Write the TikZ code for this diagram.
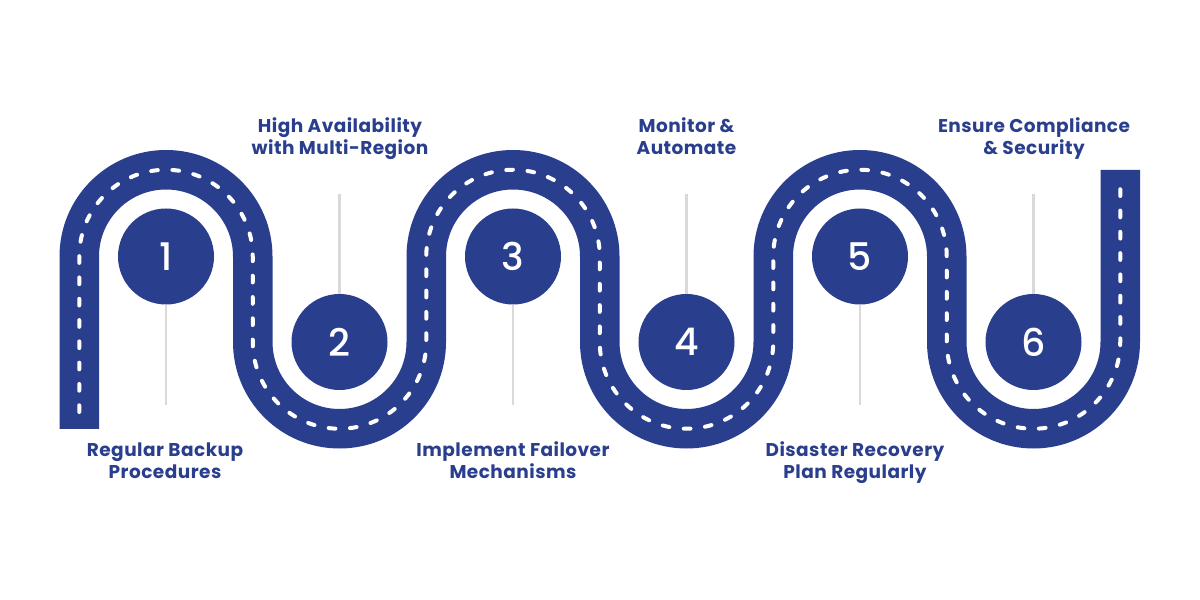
\documentclass[tikz,border=0pt]{standalone}
\usepackage{fontspec}
\setmainfont{Poppins}
\newfontfamily\lblfont{Poppins}[LetterSpace=2.5]
\newfontfamily\numfont{Poppins Medium}
\definecolor{roadblue}{RGB}{42,62,142}
\definecolor{stemgray}{RGB}{217,217,217}
\tikzset{
  road/.style={draw=roadblue, line width=39.5pt},
  laneline/.style={draw=white, line width=4pt, line cap=round, dash pattern=on 6.7pt off 14.6pt},
  stepcircle/.style={circle, fill=roadblue, minimum size=96pt, inner sep=0pt, text=white, font=\numfont\fontsize{38}{38}\selectfont},
  stem/.style={draw=stemgray, line width=2.5pt},
  lbl/.style={anchor=base, inner sep=0pt, text=roadblue, font=\lblfont\bfseries\fontsize{18.5}{22}\selectfont}
}
\begin{document}
\begin{tikzpicture}[x=1pt,y=1pt]
\useasboundingbox (0,0) rectangle (1200,600);
\fill[white] (0,0) rectangle (1200,600);
% road
\draw[road] (79.25,171) -- (79.25,343.5)
  arc[start angle=180,end angle=0,radius=86.75pt] -- (252.75,258)
  arc[start angle=180,end angle=360,radius=86.75pt] -- (426.25,343.5)
  arc[start angle=180,end angle=0,radius=86.75pt] -- (599.75,258)
  arc[start angle=180,end angle=360,radius=86.75pt] -- (773.25,343.5)
  arc[start angle=180,end angle=0,radius=86.75pt] -- (946.75,258)
  arc[start angle=180,end angle=360,radius=86.75pt] -- (1120.25,430);
\draw[laneline] (79.25,188) -- (79.25,343.5)
  arc[start angle=180,end angle=0,radius=86.75pt] -- (252.75,258)
  arc[start angle=180,end angle=360,radius=86.75pt] -- (426.25,343.5)
  arc[start angle=180,end angle=0,radius=86.75pt] -- (599.75,258)
  arc[start angle=180,end angle=360,radius=86.75pt] -- (773.25,343.5)
  arc[start angle=180,end angle=0,radius=86.75pt] -- (946.75,258)
  arc[start angle=180,end angle=360,radius=86.75pt] -- (1120.25,412);
% circles
\node[stepcircle] (c1) at (166,343.5) {1};
\node[stepcircle] (c2) at (339.5,258) {2};
\node[stepcircle] (c3) at (513,343.5) {3};
\node[stepcircle] (c4) at (686.5,258) {4};
\node[stepcircle] (c5) at (860,343.5) {5};
\node[stepcircle] (c6) at (1033.5,258) {6};
% stems
\coordinate (s1) at (166,195);
\coordinate (s2) at (339.5,406);
\coordinate (s3) at (513,195);
\coordinate (s4) at (686.5,406);
\coordinate (s5) at (860,195);
\coordinate (s6) at (1033.5,406);
\draw[stem] (c1.south) -- (s1);
\draw[stem] (c2.north) -- (s2);
\draw[stem] (c3.south) -- (s3);
\draw[stem] (c4.north) -- (s4);
\draw[stem] (c5.south) -- (s5);
\draw[stem] (c6.north) -- (s6);
% labels
\node[lbl] (t1) at (165,143) {\begin{tabular}[t]{@{}c@{}}Regular Backup\\Procedures\end{tabular}};
\node[lbl] (t2) at (340,467.3) {\begin{tabular}[t]{@{}c@{}}High Availability\\with Multi-Region\end{tabular}};
\node[lbl] (t3) at (513,143) {\begin{tabular}[t]{@{}c@{}}Implement Failover\\Mechanisms\end{tabular}};
\node[lbl] (t4) at (686.5,467.3) {\begin{tabular}[t]{@{}c@{}}Monitor \&\\Automate\end{tabular}};
\node[lbl] (t5) at (855,143) {\begin{tabular}[t]{@{}c@{}}Disaster Recovery\\Plan Regularly\end{tabular}};
\node[lbl] (t6) at (1034,467.3) {\begin{tabular}[t]{@{}c@{}}Ensure Compliance\\\& Security\end{tabular}};
\end{tikzpicture}
\end{document}
